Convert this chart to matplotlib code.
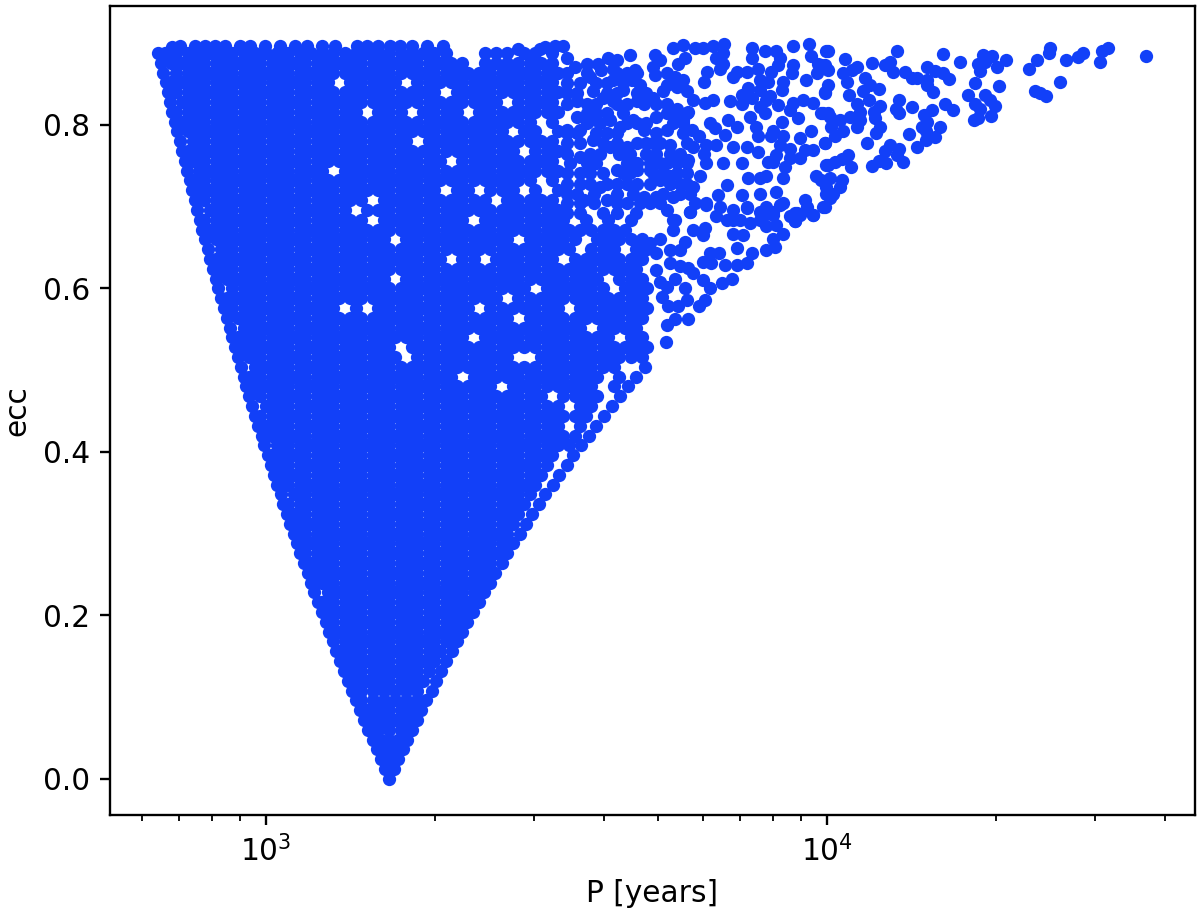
import matplotlib
matplotlib.use("Agg")
import matplotlib.pyplot as plt

# values, P kept as log10(P) rows of the filled part
ecc_low = [0.0, 0.012, 0.024, 0.036, 0.048, 0.06, 0.072, 0.084, 0.096, 0.108, 0.12, 0.132, 0.144, 0.156, 0.168, 0.18, 0.192, 0.204, 0.216, 0.228, 0.24, 0.252, 0.264, 0.276, 0.288]
logp_low = [
    [3.22],
    [3.212, 3.228],
    [3.205, 3.22, 3.236],
    [3.197, 3.21, 3.23, 3.244],
    [3.19, 3.205, 3.22, 3.235, 3.252],
    [3.182, 3.2, 3.22, 3.24, 3.26],
    [3.175, 3.19, 3.21, 3.23, 3.25, 3.269],
    [3.167, 3.18, 3.2, 3.22, 3.24, 3.26, 3.277],
    [3.16, 3.17, 3.19, 3.21, 3.23, 3.25, 3.27, 3.286],
    [3.153, 3.17, 3.19, 3.21, 3.23, 3.25, 3.27, 3.295],
    [3.146, 3.16, 3.18, 3.2, 3.22, 3.24, 3.26, 3.28, 3.303],
    [3.139, 3.15, 3.17, 3.19, 3.21, 3.23, 3.25, 3.27, 3.29, 3.312],
    [3.132, 3.14, 3.16, 3.18, 3.2, 3.22, 3.24, 3.26, 3.28, 3.3, 3.321],
    [3.125, 3.13, 3.15, 3.17, 3.19, 3.21, 3.23, 3.25, 3.27, 3.29, 3.31, 3.331],
    [3.119, 3.14, 3.16, 3.18, 3.2, 3.22, 3.24, 3.26, 3.28, 3.3, 3.32, 3.34],
    [3.112, 3.13, 3.15, 3.17, 3.19, 3.21, 3.23, 3.25, 3.27, 3.29, 3.31, 3.33, 3.349],
    [3.106, 3.12, 3.14, 3.16, 3.18, 3.2, 3.22, 3.24, 3.26, 3.28, 3.3, 3.32, 3.34, 3.359],
    [3.099, 3.11, 3.13, 3.15, 3.17, 3.19, 3.21, 3.23, 3.25, 3.27, 3.29, 3.31, 3.33, 3.35, 3.369],
    [3.093, 3.1, 3.12, 3.14, 3.16, 3.18, 3.2, 3.22, 3.24, 3.26, 3.28, 3.3, 3.32, 3.34, 3.36, 3.379],
    [3.086, 3.11, 3.13, 3.15, 3.17, 3.19, 3.21, 3.23, 3.25, 3.27, 3.29, 3.31, 3.33, 3.35, 3.37, 3.388],
    [3.08, 3.1, 3.12, 3.14, 3.16, 3.18, 3.2, 3.22, 3.24, 3.26, 3.28, 3.3, 3.32, 3.34, 3.36, 3.38, 3.399],
    [3.074, 3.09, 3.11, 3.13, 3.15, 3.17, 3.19, 3.21, 3.23, 3.25, 3.27, 3.29, 3.31, 3.33, 3.35, 3.37, 3.39, 3.409],
    [3.067, 3.08, 3.1, 3.12, 3.14, 3.16, 3.18, 3.2, 3.22, 3.24, 3.26, 3.28, 3.3, 3.32, 3.34, 3.36, 3.38, 3.4, 3.42],
    [3.061, 3.07, 3.09, 3.11, 3.13, 3.15, 3.17, 3.19, 3.21, 3.23, 3.25, 3.27, 3.29, 3.31, 3.33, 3.35, 3.37, 3.39, 3.41, 3.43],
    [3.055, 3.06, 3.08, 3.1, 3.12, 3.14, 3.16, 3.18, 3.2, 3.22, 3.24, 3.26, 3.28, 3.3, 3.32, 3.34, 3.36, 3.38, 3.4, 3.42, 3.441],
]

ecc_mid = [0.3, 0.312, 0.324, 0.336, 0.348, 0.36, 0.372, 0.384, 0.396, 0.408, 0.42, 0.432, 0.444, 0.456, 0.468, 0.48, 0.492, 0.504, 0.516, 0.528, 0.54, 0.552, 0.564, 0.576, 0.588]
logp_mid = [
    [3.049, 3.07, 3.09, 3.11, 3.13, 3.15, 3.17, 3.19, 3.21, 3.23, 3.25, 3.27, 3.29, 3.31, 3.33, 3.35, 3.37, 3.39, 3.41, 3.43, 3.452],
    [3.043, 3.06, 3.08, 3.1, 3.12, 3.14, 3.16, 3.18, 3.2, 3.22, 3.24, 3.26, 3.28, 3.3, 3.32, 3.34, 3.36, 3.38, 3.4, 3.42, 3.44, 3.464],
    [3.037, 3.05, 3.07, 3.09, 3.11, 3.13, 3.15, 3.17, 3.19, 3.21, 3.23, 3.25, 3.27, 3.29, 3.31, 3.33, 3.35, 3.37, 3.39, 3.41, 3.43, 3.45, 3.475],
    [3.031, 3.04, 3.06, 3.08, 3.1, 3.12, 3.14, 3.16, 3.18, 3.2, 3.22, 3.24, 3.26, 3.28, 3.3, 3.32, 3.34, 3.36, 3.38, 3.4, 3.42, 3.44, 3.46, 3.487],
    [3.026, 3.05, 3.07, 3.09, 3.11, 3.13, 3.15, 3.17, 3.19, 3.21, 3.23, 3.25, 3.27, 3.29, 3.31, 3.33, 3.35, 3.37, 3.39, 3.41, 3.43, 3.45, 3.47, 3.498],
    [3.02, 3.04, 3.06, 3.08, 3.1, 3.12, 3.14, 3.16, 3.18, 3.2, 3.22, 3.24, 3.26, 3.28, 3.3, 3.32, 3.34, 3.36, 3.38, 3.4, 3.42, 3.44, 3.46, 3.48, 3.511],
    [3.014, 3.03, 3.05, 3.07, 3.09, 3.11, 3.13, 3.15, 3.17, 3.19, 3.21, 3.23, 3.25, 3.27, 3.29, 3.31, 3.33, 3.35, 3.37, 3.39, 3.41, 3.43, 3.45, 3.47, 3.49, 3.523],
    [3.008, 3.02, 3.04, 3.06, 3.08, 3.1, 3.12, 3.14, 3.16, 3.18, 3.2, 3.22, 3.24, 3.26, 3.28, 3.3, 3.32, 3.34, 3.36, 3.38, 3.4, 3.42, 3.44, 3.46, 3.48, 3.5, 3.536],
    [3.003, 3.01, 3.03, 3.05, 3.07, 3.09, 3.11, 3.13, 3.15, 3.17, 3.19, 3.21, 3.23, 3.25, 3.27, 3.29, 3.31, 3.33, 3.35, 3.37, 3.39, 3.41, 3.43, 3.45, 3.47, 3.49, 3.51, 3.548],
    [2.997, 3.02, 3.04, 3.06, 3.08, 3.1, 3.12, 3.14, 3.16, 3.18, 3.2, 3.22, 3.24, 3.26, 3.28, 3.3, 3.32, 3.34, 3.36, 3.38, 3.4, 3.42, 3.44, 3.46, 3.48, 3.5, 3.52, 3.54, 3.561],
    [2.992, 3.01, 3.03, 3.05, 3.07, 3.09, 3.11, 3.13, 3.15, 3.17, 3.19, 3.21, 3.23, 3.25, 3.27, 3.29, 3.31, 3.33, 3.35, 3.37, 3.39, 3.41, 3.43, 3.45, 3.47, 3.49, 3.51, 3.53, 3.55, 3.575],
    [2.986, 3.0, 3.02, 3.04, 3.06, 3.08, 3.1, 3.12, 3.14, 3.16, 3.18, 3.2, 3.22, 3.24, 3.26, 3.28, 3.3, 3.32, 3.34, 3.36, 3.38, 3.4, 3.42, 3.44, 3.46, 3.48, 3.5, 3.52, 3.56, 3.589],
    [2.981, 2.99, 3.01, 3.03, 3.05, 3.07, 3.09, 3.11, 3.13, 3.15, 3.17, 3.19, 3.21, 3.23, 3.25, 3.27, 3.29, 3.31, 3.33, 3.35, 3.37, 3.39, 3.41, 3.43, 3.45, 3.47, 3.49, 3.51, 3.53, 3.55, 3.57, 3.602],
    [2.975, 3.0, 3.02, 3.04, 3.06, 3.08, 3.1, 3.12, 3.14, 3.16, 3.18, 3.2, 3.22, 3.24, 3.26, 3.28, 3.3, 3.32, 3.34, 3.36, 3.38, 3.4, 3.42, 3.44, 3.46, 3.48, 3.5, 3.52, 3.56, 3.58, 3.617],
    [2.97, 2.99, 3.01, 3.03, 3.05, 3.07, 3.09, 3.11, 3.13, 3.15, 3.17, 3.19, 3.21, 3.23, 3.25, 3.27, 3.29, 3.31, 3.33, 3.35, 3.37, 3.39, 3.41, 3.43, 3.45, 3.47, 3.49, 3.53, 3.55, 3.57, 3.59, 3.631],
    [2.965, 2.98, 3.0, 3.02, 3.04, 3.06, 3.08, 3.1, 3.12, 3.14, 3.16, 3.18, 3.2, 3.22, 3.24, 3.26, 3.28, 3.3, 3.32, 3.34, 3.36, 3.38, 3.4, 3.44, 3.46, 3.48, 3.5, 3.52, 3.54, 3.56, 3.58, 3.62, 3.646],
    [2.96, 2.97, 2.99, 3.01, 3.03, 3.05, 3.07, 3.09, 3.11, 3.13, 3.15, 3.17, 3.19, 3.21, 3.23, 3.25, 3.27, 3.29, 3.31, 3.33, 3.37, 3.39, 3.41, 3.43, 3.45, 3.47, 3.49, 3.51, 3.53, 3.55, 3.57, 3.59, 3.63, 3.66],
    [2.955, 2.98, 3.0, 3.02, 3.04, 3.06, 3.08, 3.1, 3.12, 3.14, 3.16, 3.18, 3.2, 3.22, 3.24, 3.26, 3.28, 3.3, 3.32, 3.34, 3.36, 3.38, 3.4, 3.42, 3.44, 3.46, 3.48, 3.5, 3.52, 3.54, 3.56, 3.58, 3.6, 3.62, 3.676],
    [2.95, 2.97, 2.99, 3.01, 3.03, 3.05, 3.07, 3.09, 3.11, 3.13, 3.15, 3.17, 3.19, 3.21, 3.23, 3.27, 3.29, 3.31, 3.33, 3.35, 3.37, 3.39, 3.41, 3.43, 3.49, 3.51, 3.53, 3.55, 3.57, 3.59, 3.61, 3.63, 3.65, 3.67],
    [2.945, 2.96, 2.98, 3.0, 3.02, 3.04, 3.06, 3.08, 3.1, 3.12, 3.14, 3.16, 3.18, 3.2, 3.22, 3.26, 3.28, 3.3, 3.32, 3.34, 3.36, 3.38, 3.4, 3.42, 3.44, 3.46, 3.48, 3.5, 3.52, 3.54, 3.56, 3.58, 3.6, 3.62, 3.64, 3.66, 3.68],
    [2.94, 2.95, 2.97, 2.99, 3.01, 3.03, 3.05, 3.07, 3.09, 3.11, 3.13, 3.15, 3.17, 3.19, 3.21, 3.23, 3.25, 3.27, 3.29, 3.31, 3.33, 3.35, 3.39, 3.41, 3.43, 3.45, 3.47, 3.49, 3.51, 3.53, 3.55, 3.57, 3.59, 3.61, 3.65, 3.67],
    [2.935, 2.96, 2.98, 3.0, 3.02, 3.04, 3.06, 3.08, 3.1, 3.12, 3.14, 3.16, 3.18, 3.2, 3.22, 3.24, 3.26, 3.28, 3.3, 3.32, 3.34, 3.36, 3.38, 3.4, 3.42, 3.44, 3.46, 3.48, 3.5, 3.52, 3.54, 3.56, 3.6, 3.62, 3.64, 3.66],
    [2.93, 2.95, 2.97, 2.99, 3.01, 3.03, 3.05, 3.07, 3.09, 3.11, 3.13, 3.15, 3.17, 3.19, 3.21, 3.23, 3.25, 3.27, 3.29, 3.31, 3.33, 3.35, 3.37, 3.39, 3.41, 3.43, 3.47, 3.49, 3.51, 3.53, 3.55, 3.57, 3.59, 3.61, 3.63, 3.65, 3.67],
    [2.925, 2.94, 2.96, 2.98, 3.0, 3.02, 3.04, 3.06, 3.08, 3.1, 3.12, 3.16, 3.2, 3.22, 3.24, 3.26, 3.28, 3.3, 3.32, 3.34, 3.36, 3.4, 3.42, 3.44, 3.46, 3.48, 3.5, 3.52, 3.56, 3.58, 3.6, 3.62, 3.64, 3.66, 3.68],
    [2.92, 2.93, 2.95, 2.97, 2.99, 3.01, 3.03, 3.05, 3.07, 3.09, 3.11, 3.13, 3.15, 3.17, 3.19, 3.21, 3.23, 3.25, 3.27, 3.29, 3.31, 3.33, 3.35, 3.37, 3.39, 3.41, 3.45, 3.47, 3.49, 3.51, 3.53, 3.55, 3.57, 3.59, 3.61, 3.63, 3.65, 3.67],
]

ecc_high = [0.6, 0.612, 0.624, 0.636, 0.648, 0.66, 0.672, 0.684, 0.696, 0.708, 0.72, 0.732, 0.744, 0.756, 0.768, 0.78, 0.792, 0.804, 0.816, 0.828, 0.84, 0.852, 0.864, 0.876, 0.888]
logp_high = [
    [2.914, 2.94, 2.96, 2.98, 3.0, 3.02, 3.04, 3.06, 3.08, 3.1, 3.12, 3.14, 3.16, 3.18, 3.2, 3.22, 3.24, 3.26, 3.28, 3.3, 3.32, 3.34, 3.36, 3.38, 3.4, 3.42, 3.44, 3.46, 3.5, 3.52, 3.54, 3.56, 3.58, 3.6, 3.64, 3.66, 3.68],
    [2.91, 2.93, 2.95, 2.97, 2.99, 3.01, 3.03, 3.05, 3.07, 3.09, 3.11, 3.13, 3.15, 3.17, 3.19, 3.21, 3.25, 3.27, 3.29, 3.31, 3.33, 3.35, 3.37, 3.39, 3.41, 3.43, 3.45, 3.47, 3.49, 3.51, 3.53, 3.55, 3.57, 3.59, 3.63, 3.65, 3.67],
    [2.905, 2.92, 2.94, 2.96, 2.98, 3.0, 3.02, 3.04, 3.06, 3.08, 3.1, 3.12, 3.14, 3.16, 3.18, 3.2, 3.22, 3.24, 3.26, 3.28, 3.3, 3.32, 3.34, 3.36, 3.38, 3.4, 3.42, 3.44, 3.46, 3.48, 3.5, 3.52, 3.54, 3.56, 3.58, 3.6, 3.62, 3.64, 3.66],
    [2.9, 2.91, 2.93, 2.95, 2.97, 2.99, 3.01, 3.03, 3.05, 3.07, 3.09, 3.11, 3.13, 3.15, 3.17, 3.19, 3.21, 3.23, 3.25, 3.27, 3.29, 3.31, 3.35, 3.37, 3.41, 3.43, 3.45, 3.47, 3.49, 3.51, 3.55, 3.57, 3.59, 3.61, 3.63, 3.65, 3.67],
    [2.896, 2.92, 2.94, 2.96, 2.98, 3.0, 3.02, 3.04, 3.06, 3.08, 3.1, 3.12, 3.14, 3.16, 3.18, 3.2, 3.22, 3.24, 3.26, 3.28, 3.3, 3.32, 3.34, 3.36, 3.38, 3.4, 3.42, 3.44, 3.46, 3.48, 3.5, 3.52, 3.54, 3.58, 3.6, 3.62, 3.66, 3.68],
    [2.891, 2.91, 2.93, 2.95, 2.97, 2.99, 3.01, 3.03, 3.05, 3.07, 3.09, 3.11, 3.13, 3.15, 3.17, 3.19, 3.21, 3.25, 3.27, 3.29, 3.31, 3.33, 3.35, 3.37, 3.39, 3.41, 3.43, 3.47, 3.49, 3.51, 3.53, 3.55, 3.59, 3.61, 3.63, 3.65, 3.67],
    [2.886, 2.9, 2.92, 2.94, 2.96, 2.98, 3.0, 3.02, 3.04, 3.06, 3.08, 3.1, 3.12, 3.14, 3.16, 3.18, 3.2, 3.22, 3.24, 3.26, 3.28, 3.3, 3.32, 3.34, 3.36, 3.38, 3.4, 3.42, 3.44, 3.46, 3.48, 3.5, 3.52, 3.54, 3.56, 3.58, 3.6, 3.62, 3.64],
    [2.882, 2.89, 2.91, 2.93, 2.95, 2.97, 2.99, 3.01, 3.03, 3.05, 3.07, 3.09, 3.11, 3.13, 3.15, 3.17, 3.21, 3.23, 3.25, 3.27, 3.29, 3.31, 3.33, 3.35, 3.39, 3.41, 3.43, 3.45, 3.47, 3.49, 3.51, 3.53, 3.57, 3.61, 3.65],
    [2.877, 2.9, 2.92, 2.94, 2.96, 2.98, 3.0, 3.02, 3.04, 3.06, 3.08, 3.1, 3.12, 3.14, 3.18, 3.2, 3.22, 3.24, 3.26, 3.28, 3.3, 3.32, 3.34, 3.36, 3.38, 3.4, 3.42, 3.44, 3.46, 3.48, 3.5, 3.52],
    [2.873, 2.89, 2.91, 2.93, 2.95, 2.97, 2.99, 3.01, 3.03, 3.05, 3.07, 3.09, 3.11, 3.13, 3.15, 3.17, 3.21, 3.23, 3.25, 3.27, 3.29, 3.31, 3.33, 3.35, 3.37, 3.39, 3.43, 3.45, 3.47, 3.49, 3.51],
    [2.868, 2.88, 2.9, 2.92, 2.94, 2.96, 2.98, 3.0, 3.02, 3.04, 3.06, 3.08, 3.1, 3.12, 3.14, 3.16, 3.18, 3.2, 3.22, 3.24, 3.26, 3.28, 3.3, 3.34, 3.36, 3.4, 3.42, 3.44, 3.48, 3.52],
    [2.864, 2.87, 2.89, 2.91, 2.93, 2.95, 2.97, 2.99, 3.01, 3.03, 3.05, 3.07, 3.09, 3.11, 3.13, 3.15, 3.17, 3.19, 3.21, 3.23, 3.25, 3.27, 3.29, 3.31, 3.33, 3.35, 3.37, 3.39, 3.41, 3.43, 3.45, 3.47, 3.51],
    [2.859, 2.88, 2.9, 2.92, 2.94, 2.96, 2.98, 3.0, 3.02, 3.04, 3.06, 3.08, 3.1, 3.14, 3.16, 3.18, 3.2, 3.22, 3.24, 3.26, 3.28, 3.3, 3.32, 3.34, 3.36, 3.38, 3.4, 3.42, 3.44, 3.46, 3.48, 3.5, 3.52],
    [2.855, 2.87, 2.89, 2.91, 2.93, 2.95, 2.97, 2.99, 3.01, 3.03, 3.05, 3.07, 3.09, 3.11, 3.13, 3.15, 3.17, 3.19, 3.21, 3.23, 3.25, 3.27, 3.29, 3.31, 3.35, 3.37, 3.39, 3.41, 3.43, 3.45, 3.47, 3.49, 3.51],
    [2.851, 2.86, 2.88, 2.9, 2.92, 2.94, 2.96, 2.98, 3.0, 3.02, 3.04, 3.06, 3.08, 3.1, 3.12, 3.14, 3.16, 3.18, 3.2, 3.22, 3.24, 3.26, 3.28, 3.3, 3.32, 3.34, 3.36, 3.38, 3.4, 3.42, 3.44, 3.48, 3.5, 3.52],
    [2.847, 2.87, 2.89, 2.91, 2.93, 2.95, 2.97, 2.99, 3.01, 3.03, 3.05, 3.07, 3.09, 3.11, 3.13, 3.15, 3.17, 3.19, 3.21, 3.23, 3.25, 3.29, 3.31, 3.33, 3.35, 3.37, 3.39, 3.41, 3.43, 3.45, 3.47, 3.49, 3.51],
    [2.842, 2.86, 2.88, 2.9, 2.92, 2.94, 2.96, 2.98, 3.0, 3.02, 3.04, 3.06, 3.08, 3.1, 3.12, 3.14, 3.16, 3.18, 3.2, 3.22, 3.24, 3.26, 3.28, 3.3, 3.32, 3.34, 3.36, 3.38, 3.4, 3.42, 3.46, 3.48, 3.52],
    [2.838, 2.85, 2.87, 2.89, 2.91, 2.93, 2.95, 2.97, 2.99, 3.01, 3.03, 3.05, 3.07, 3.09, 3.11, 3.13, 3.15, 3.17, 3.19, 3.21, 3.23, 3.25, 3.27, 3.29, 3.31, 3.33, 3.35, 3.37, 3.39, 3.41, 3.43, 3.45, 3.47, 3.51],
    [2.833, 2.84, 2.86, 2.88, 2.9, 2.92, 2.94, 2.96, 2.98, 3.0, 3.02, 3.04, 3.06, 3.08, 3.1, 3.12, 3.14, 3.16, 3.2, 3.22, 3.24, 3.28, 3.3, 3.32, 3.34, 3.38, 3.4, 3.42, 3.44, 3.46, 3.48, 3.5, 3.52],
    [2.829, 2.85, 2.87, 2.89, 2.91, 2.93, 2.95, 2.97, 2.99, 3.01, 3.03, 3.05, 3.07, 3.09, 3.11, 3.13, 3.15, 3.17, 3.19, 3.21, 3.23, 3.25, 3.27, 3.29, 3.31, 3.33, 3.35, 3.37, 3.39, 3.41, 3.45, 3.47, 3.49, 3.51],
    [2.825, 2.84, 2.86, 2.88, 2.9, 2.92, 2.94, 2.96, 2.98, 3.0, 3.02, 3.04, 3.06, 3.08, 3.1, 3.12, 3.14, 3.16, 3.18, 3.2, 3.22, 3.24, 3.26, 3.28, 3.3, 3.34, 3.36, 3.38, 3.4, 3.42, 3.44, 3.46, 3.48, 3.5, 3.52],
    [2.821, 2.83, 2.85, 2.87, 2.89, 2.91, 2.93, 2.95, 2.97, 2.99, 3.01, 3.03, 3.05, 3.07, 3.09, 3.11, 3.15, 3.17, 3.19, 3.21, 3.23, 3.27, 3.29, 3.31, 3.33, 3.35, 3.37, 3.39, 3.41, 3.43, 3.45, 3.47, 3.49, 3.51],
    [2.817, 2.84, 2.86, 2.88, 2.9, 2.92, 2.94, 2.96, 2.98, 3.0, 3.02, 3.04, 3.06, 3.08, 3.1, 3.12, 3.14, 3.16, 3.18, 3.2, 3.22, 3.24, 3.26, 3.28, 3.3, 3.32, 3.34, 3.36, 3.38, 3.4, 3.42, 3.44, 3.46, 3.48, 3.5, 3.52],
    [2.813, 2.83, 2.85, 2.87, 2.89, 2.91, 2.93, 2.95, 2.97, 2.99, 3.01, 3.03, 3.05, 3.07, 3.09, 3.11, 3.13, 3.15, 3.17, 3.19, 3.21, 3.23, 3.25, 3.27, 3.29, 3.31, 3.33, 3.35, 3.39, 3.41, 3.43, 3.45, 3.47, 3.49, 3.51],
    [2.808, 2.82, 2.84, 2.86, 2.88, 2.9, 2.92, 2.94, 2.96, 2.98, 3.0, 3.02, 3.04, 3.06, 3.08, 3.1, 3.12, 3.14, 3.16, 3.18, 3.2, 3.22, 3.24, 3.26, 3.28, 3.3, 3.32, 3.39, 3.41, 3.43, 3.46, 3.48, 3.51],
]

# top edge of the cloud
logp_top = [2.832, 2.847, 2.873, 2.891, 2.909, 2.927, 2.954, 2.971, 2.998, 3.025, 3.052, 3.073, 3.1, 3.123, 3.162, 3.18, 3.2, 3.221, 3.239, 3.26, 3.287, 3.316, 3.449, 3.488, 3.497, 3.515]
ecc_top = [0.895, 0.896, 0.897, 0.897, 0.897, 0.897, 0.897, 0.897, 0.897, 0.897, 0.897, 0.897, 0.897, 0.897, 0.896, 0.896, 0.896, 0.897, 0.897, 0.897, 0.896, 0.897, 0.893, 0.893, 0.895, 0.896]

# single points on the long period side
logp_a = [3.53, 3.536, 3.551, 3.572, 3.592, 3.61, 3.625, 3.649, 3.658, 3.619, 3.598, 3.693, 3.702, 3.69, 3.693, 3.714, 3.729, 3.744, 3.714, 3.732, 3.75, 3.762, 3.782, 3.796, 3.708, 3.69, 3.673, 3.661, 3.637, 3.667, 3.652, 3.619, 3.577, 3.56, 3.536, 3.554, 3.583, 3.601, 3.619, 3.726, 3.744, 3.765, 3.779, 3.796, 3.816, 3.815, 3.803, 3.815, 3.809, 3.735, 3.747, 3.787, 3.781, 3.866, 3.866, 3.89, 3.909, 3.916, 3.913, 3.901, 3.94, 3.968, 3.999, 3.971, 3.984, 3.983, 3.996, 3.939, 3.937, 3.922, 3.919, 3.962, 3.877, 3.857, 3.839, 3.832, 3.88, 3.895, 3.86, 3.848, 3.88, 3.898, 3.828, 3.848, 3.866, 3.892, 3.88, 3.89, 3.913, 3.94, 3.958, 3.975, 3.996, 3.993, 4.005, 3.934, 3.949, 3.919, 3.863, 3.874, 3.791, 3.8, 3.824, 3.839, 3.818, 3.972, 3.904, 3.901, 3.877, 3.922, 3.952, 3.996, 3.961, 3.975, 3.934, 3.916, 3.91, 3.934, 3.952, 3.904, 3.925, 3.999, 3.981, 3.999, 3.961, 3.993, 3.975, 3.946, 3.943]
ecc_a = [0.896, 0.882, 0.871, 0.875, 0.875, 0.882, 0.88, 0.886, 0.867, 0.869, 0.867, 0.886, 0.88, 0.871, 0.861, 0.863, 0.859, 0.855, 0.849, 0.847, 0.841, 0.831, 0.827, 0.83, 0.841, 0.833, 0.826, 0.829, 0.843, 0.849, 0.855, 0.855, 0.859, 0.851, 0.839, 0.829, 0.841, 0.833, 0.829, 0.894, 0.898, 0.894, 0.894, 0.897, 0.899, 0.888, 0.882, 0.875, 0.869, 0.875, 0.882, 0.865, 0.852, 0.894, 0.882, 0.891, 0.89, 0.882, 0.873, 0.865, 0.897, 0.899, 0.891, 0.884, 0.875, 0.864, 0.873, 0.873, 0.863, 0.853, 0.843, 0.855, 0.868, 0.865, 0.865, 0.859, 0.855, 0.853, 0.845, 0.837, 0.843, 0.835, 0.829, 0.826, 0.833, 0.831, 0.822, 0.814, 0.824, 0.827, 0.831, 0.827, 0.839, 0.814, 0.81, 0.818, 0.808, 0.803, 0.81, 0.798, 0.802, 0.796, 0.806, 0.798, 0.788, 0.792, 0.792, 0.786, 0.786, 0.786, 0.784, 0.778, 0.769, 0.769, 0.771, 0.775, 0.763, 0.759, 0.759, 0.755, 0.749, 0.751, 0.737, 0.724, 0.708, 0.7, 0.69, 0.692, 0.682]

logp_b = [3.753, 3.72, 3.732, 3.744, 3.759, 3.771, 3.762, 3.753, 3.785, 3.803, 3.833, 3.857, 3.877, 3.895, 3.848, 3.86, 3.821, 3.806, 3.785, 3.756, 3.88, 3.892, 3.922, 3.91, 3.916, 3.904, 3.88, 3.848, 3.833, 3.857, 3.886, 3.785, 3.815, 3.773, 3.762, 3.726, 3.696, 3.726, 3.702, 3.732, 3.673, 3.655, 3.631, 3.696, 3.714, 3.643, 3.613, 3.583, 3.56, 3.589, 3.613, 3.554, 3.536, 3.56, 3.542, 3.589, 3.625, 3.661, 3.595, 3.643, 3.673, 3.566, 3.607, 3.643, 3.536, 3.69, 3.72, 3.684, 3.72, 3.738, 3.702]
ecc_b = [0.816, 0.818, 0.82, 0.806, 0.794, 0.786, 0.773, 0.757, 0.775, 0.775, 0.773, 0.773, 0.767, 0.755, 0.753, 0.735, 0.727, 0.714, 0.704, 0.694, 0.735, 0.737, 0.735, 0.718, 0.702, 0.694, 0.716, 0.714, 0.684, 0.698, 0.688, 0.753, 0.753, 0.737, 0.724, 0.684, 0.712, 0.712, 0.753, 0.753, 0.794, 0.806, 0.798, 0.81, 0.794, 0.773, 0.773, 0.782, 0.794, 0.806, 0.806, 0.81, 0.794, 0.761, 0.753, 0.753, 0.745, 0.745, 0.724, 0.728, 0.712, 0.708, 0.708, 0.704, 0.728, 0.778, 0.775, 0.745, 0.737, 0.728, 0.733]

logp_c = [3.713, 3.714, 3.729, 3.753, 3.771, 3.782, 3.791, 3.779, 3.762, 3.753, 3.738, 3.72, 3.696, 3.702, 3.705, 3.717, 3.735, 3.75, 3.714, 3.747, 3.729, 3.812, 3.83, 3.779, 3.794, 3.791, 3.808, 3.818, 3.839, 3.857, 3.866, 3.839, 3.833, 3.851, 3.892, 3.907, 3.904, 3.922, 3.91, 3.892, 3.88, 3.863, 3.845, 3.833, 3.809, 3.779, 3.782, 3.762, 3.747, 3.738, 3.72, 3.696, 3.756, 3.765, 3.729, 3.726, 3.702, 3.684, 3.714, 3.702, 3.785, 3.803, 3.821, 3.892, 3.904, 3.88, 3.857, 3.943, 3.952, 3.975, 3.996, 3.943, 3.964, 3.922, 3.934]
ecc_c = [0.535, 0.555, 0.563, 0.563, 0.579, 0.586, 0.6, 0.61, 0.619, 0.625, 0.627, 0.631, 0.623, 0.608, 0.59, 0.578, 0.578, 0.586, 0.602, 0.6, 0.612, 0.607, 0.612, 0.632, 0.631, 0.643, 0.643, 0.629, 0.629, 0.631, 0.643, 0.649, 0.667, 0.665, 0.647, 0.651, 0.661, 0.667, 0.678, 0.676, 0.684, 0.68, 0.684, 0.696, 0.7, 0.665, 0.674, 0.672, 0.657, 0.647, 0.647, 0.643, 0.694, 0.704, 0.684, 0.672, 0.661, 0.655, 0.696, 0.704, 0.702, 0.688, 0.684, 0.7, 0.69, 0.694, 0.7, 0.682, 0.69, 0.69, 0.7, 0.692, 0.7, 0.704, 0.688]

logp_d = [4.002, 4.032, 3.99, 4.002, 4.054, 4.029, 4.044, 4.035, 4.068, 4.081, 4.103, 4.113, 4.118, 4.124, 4.139, 4.151, 4.16, 4.179, 4.192, 4.206, 4.206, 4.218, 4.179, 4.179, 4.189, 4.237, 4.279, 4.295, 4.27, 4.282, 4.273, 4.304, 4.32, 4.36, 4.375, 4.397, 4.396, 4.426, 4.448, 4.456, 4.491, 4.501, 4.486, 4.568, 4.416, 4.371, 4.38, 4.39, 4.306, 4.264, 4.251, 4.282, 4.29, 4.299, 4.264, 4.273, 4.293, 4.27, 4.262, 4.211, 4.225, 4.188, 4.173, 4.178, 4.169, 4.201, 4.176, 4.192, 4.176, 4.146, 4.161, 4.151, 4.128, 4.123, 4.129, 4.094, 4.093, 4.077, 4.065, 4.075, 4.054, 4.083, 4.085, 4.094, 4.087, 4.059, 4.053, 4.041, 4.023, 4.029, 4.008, 4.002, 3.99, 4.014, 3.996, 4.072, 4.112, 4.103, 4.128, 4.125, 4.136, 4.106, 4.093, 4.08, 4.038, 4.026, 4.014, 4.001, 4.042, 4.005, 4.026, 4.023, 4.011, 3.99, 4.002, 3.996, 4.039, 4.058, 3.999, 4.005]
ecc_d = [0.891, 0.881, 0.873, 0.867, 0.871, 0.863, 0.867, 0.853, 0.858, 0.876, 0.873, 0.877, 0.865, 0.891, 0.865, 0.857, 0.857, 0.871, 0.866, 0.887, 0.863, 0.856, 0.855, 0.849, 0.84, 0.877, 0.886, 0.884, 0.875, 0.877, 0.866, 0.871, 0.879, 0.868, 0.88, 0.894, 0.888, 0.88, 0.883, 0.888, 0.891, 0.894, 0.877, 0.884, 0.853, 0.842, 0.839, 0.835, 0.848, 0.851, 0.837, 0.837, 0.831, 0.823, 0.826, 0.82, 0.811, 0.808, 0.806, 0.826, 0.818, 0.818, 0.812, 0.804, 0.798, 0.798, 0.792, 0.785, 0.782, 0.789, 0.773, 0.822, 0.83, 0.82, 0.814, 0.823, 0.844, 0.849, 0.842, 0.831, 0.826, 0.816, 0.808, 0.798, 0.79, 0.806, 0.798, 0.81, 0.806, 0.792, 0.798, 0.814, 0.814, 0.786, 0.778, 0.778, 0.775, 0.768, 0.771, 0.763, 0.755, 0.754, 0.756, 0.75, 0.763, 0.758, 0.755, 0.751, 0.748, 0.735, 0.733, 0.724, 0.716, 0.733, 0.849, 0.84, 0.837, 0.816, 0.716, 0.71]

# busier patch just right of the filled part
ecc_patch = [0.863, 0.851, 0.839, 0.826, 0.814, 0.802, 0.79, 0.778, 0.765, 0.753, 0.741, 0.728, 0.716, 0.704, 0.692]
logp_patch = [
    [3.536, 3.572, 3.625, 3.643, 3.661],
    [3.536, 3.589, 3.607, 3.637],
    [3.554, 3.607, 3.625, 3.661, 3.678],
    [3.536, 3.572, 3.589, 3.625, 3.643, 3.696, 3.714],
    [3.572, 3.589, 3.607, 3.637, 3.714, 3.732, 3.75],
    [3.572, 3.596, 3.643, 3.661, 3.678, 3.725, 3.744],
    [3.536, 3.554, 3.589, 3.607, 3.625, 3.696, 3.744],
    [3.536, 3.56, 3.6, 3.625, 3.661, 3.678, 3.702, 3.75],
    [3.536, 3.578, 3.596, 3.63, 3.649, 3.678, 3.696, 3.72, 3.738, 3.78],
    [3.572, 3.643, 3.661, 3.684, 3.714, 3.75],
    [3.536, 3.56, 3.578, 3.601, 3.637, 3.649, 3.69, 3.708, 3.732, 3.75],
    [3.56, 3.578, 3.607, 3.625, 3.661, 3.684, 3.72, 3.75],
    [3.536, 3.554, 3.584, 3.625, 3.655, 3.708, 3.738, 3.755],
    [3.536, 3.56, 3.584, 3.625, 3.667, 3.684],
    [3.536, 3.56, 3.6, 3.625, 3.66],
]

x_label = "P [years]"
y_label = "ecc"
point_color = "#1240f8"


def main() -> int:
    plt.rcParams.update({
        "font.size": 11.4,
        "axes.linewidth": 0.9,
        "xtick.major.size": 4.0,
        "ytick.major.size": 4.0,
        "xtick.minor.size": 2.3,
        "xtick.major.width": 0.9,
        "ytick.major.width": 0.9,
        "xtick.minor.width": 0.7,
        "axes.labelpad": 4.6,
    })
    logp = list(logp_top) + list(logp_a) + list(logp_b) + list(logp_c) + list(logp_d)
    ecc = list(ecc_top) + list(ecc_a) + list(ecc_b) + list(ecc_c) + list(ecc_d)
    groups = [(ecc_low, logp_low), (ecc_mid, logp_mid), (ecc_high, logp_high), (ecc_patch, logp_patch)]
    for ecc_rows, logp_rows in groups:
        for e, row in zip(ecc_rows, logp_rows):
            logp.extend(row)
            ecc.extend([e] * len(row))
    period = [10**v for v in logp]

    fig = plt.figure(figsize=(6.4, 4.8907), dpi=187.5)
    ax = fig.add_axes([110 / 1200, 1 - 815 / 917, 1085 / 1200, 809 / 917])
    ax.scatter(period, ecc, s=26, color=point_color, linewidths=0)
    ax.set_xscale("log")
    ax.set_xlim(527, 45300)
    ax.set_ylim(-0.0443, 0.9455)
    ax.set_yticks([0.0, 0.2, 0.4, 0.6, 0.8])
    ax.set_xlabel(x_label)
    ax.set_ylabel(y_label)
    fig.savefig("out.png", dpi=187.5)
    return 0


if __name__ == "__main__":
    raise SystemExit(main())
